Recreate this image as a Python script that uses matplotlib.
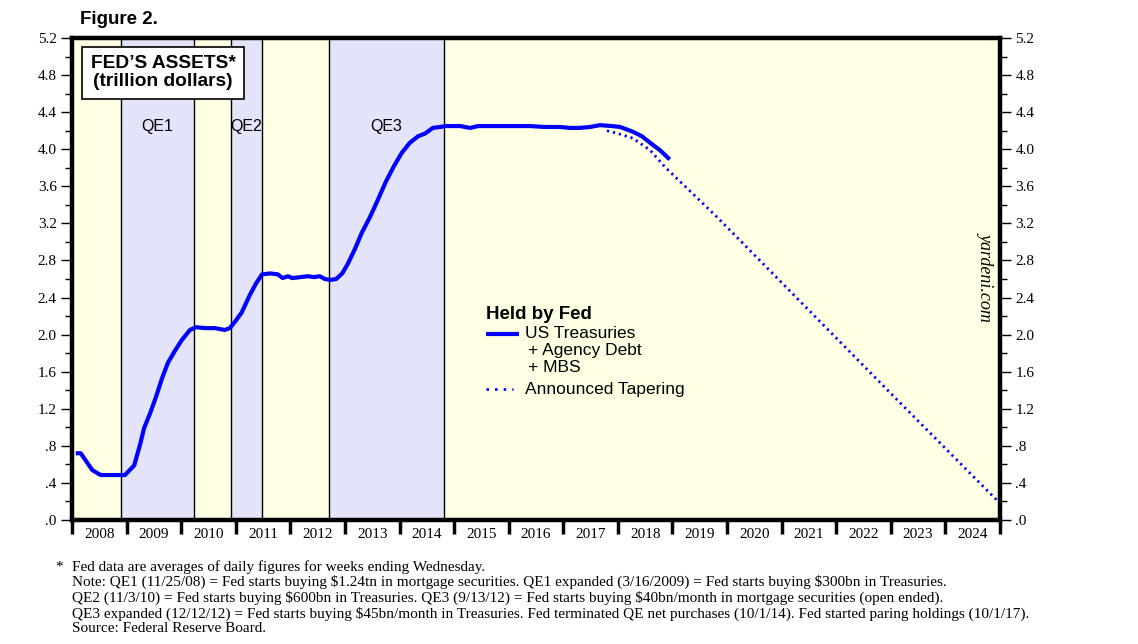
import numpy as np
import matplotlib.pyplot as plt
from matplotlib.ticker import FixedLocator, NullFormatter

# Fed's assets, trillion dollars, x in decimal years
yr_assets = [2008.07, 2008.16, 2008.37, 2008.48, 2008.53, 2008.97, 2009.06, 2009.14, 2009.25,
             2009.32, 2009.43, 2009.54, 2009.65, 2009.76, 2009.89, 2010.01, 2010.16, 2010.27,
             2010.44, 2010.62, 2010.80, 2010.89, 2011.00, 2011.11, 2011.26, 2011.37, 2011.48,
             2011.63, 2011.77, 2011.86, 2011.96, 2012.03, 2012.18, 2012.32, 2012.43, 2012.54,
             2012.63, 2012.73, 2012.84, 2012.95, 2013.05, 2013.18, 2013.31, 2013.46, 2013.60,
             2013.75, 2013.90, 2014.04, 2014.19, 2014.34, 2014.47, 2014.61, 2014.74, 2014.85,
             2015.11, 2015.29, 2015.44, 2015.66, 2016.02, 2016.39, 2016.66, 2016.94, 2017.12,
             2017.30, 2017.49, 2017.67, 2017.89, 2018.04, 2018.27, 2018.44, 2018.59, 2018.77,
             2018.95]
assets = [0.72, 0.72, 0.54, 0.50, 0.485, 0.485, 0.54, 0.59, 0.82,
          0.99, 1.15, 1.33, 1.53, 1.70, 1.83, 1.94, 2.05, 2.08,
          2.07, 2.07, 2.05, 2.07, 2.15, 2.24, 2.43, 2.55, 2.65,
          2.66, 2.65, 2.61, 2.63, 2.61, 2.62, 2.63, 2.62, 2.63,
          2.60, 2.59, 2.60, 2.66, 2.76, 2.92, 3.10, 3.27, 3.45,
          3.65, 3.82, 3.96, 4.07, 4.14, 4.17, 4.23, 4.24, 4.25,
          4.25, 4.23, 4.25, 4.25, 4.25, 4.25, 4.24, 4.24, 4.23,
          4.23, 4.24, 4.26, 4.25, 4.24, 4.19, 4.14, 4.07, 3.99,
          3.89]

# announced tapering path
yr_taper = [2017.80, 2018.00, 2018.27, 2018.59, 2018.86, 2019.83, 2023.11, 2025.00]
taper = [4.20, 4.17, 4.12, 3.99, 3.81, 3.26, 1.30, 0.18]

# QE periods and in-between periods (start, end)
qe_periods = [(2008.90, 2010.23), (2010.91, 2011.48), (2012.70, 2014.81)]
qe_names = ['QE1', 'QE2', 'QE3']
gap_periods = [(2008.0, 2008.90), (2010.23, 2010.91), (2011.48, 2012.70), (2014.81, 2025.0)]

years = list(range(2008, 2025))
y_ticks = [0.0, 0.4, 0.8, 1.2, 1.6, 2.0, 2.4, 2.8, 3.2, 3.6, 4.0, 4.4, 4.8, 5.2]
y_labels = ['.0', '.4', '.8', '1.2', '1.6', '2.0', '2.4', '2.8', '3.2', '3.6', '4.0', '4.4', '4.8', '5.2']

yellow = '#FFFFE3'
lavender = '#E3E3FA'
blue = '#0000FF'
dots = (0, (0.8, 1.4))

fig = plt.figure(figsize=(11.38, 6.44), dpi=100)
ax = fig.add_axes([72/1138, 1-520/644, 928/1138, 482/644])

for s, e in gap_periods:
    ax.axvspan(s, e, color=yellow, lw=0, zorder=0)
for (s, e), name in zip(qe_periods, qe_names):
    ax.axvspan(s, e, color=lavender, lw=0, zorder=0)
    ax.axvline(s, color='black', lw=1.0, zorder=1)
    ax.axvline(e, color='black', lw=1.0, zorder=1)
    ax.text((s + e) / 2, 4.24, name, ha='center', va='center', fontsize=11.5,
            family='Liberation Sans', zorder=3)

ax.plot(yr_taper, taper, color=blue, lw=2.0, linestyle=dots, zorder=4)
ax.plot(yr_assets, assets, color=blue, lw=3.0, solid_capstyle='butt', zorder=5)

ax.set_xlim(2008, 2025)
ax.set_ylim(0, 5.2)

# x axis: year boundary ticks, labels at mid-year
ax.xaxis.set_major_locator(FixedLocator(years + [2025]))
ax.xaxis.set_major_formatter(NullFormatter())
ax.xaxis.set_minor_locator(FixedLocator([y + 0.5 for y in years]))
ax.set_xticklabels([str(y) for y in years], minor=True)
ax.tick_params(axis='x', which='major', direction='out', length=10, width=2.5, color='black')
ax.tick_params(axis='x', which='minor', length=0, pad=6, labelsize=11)
for lab in ax.get_xticklabels(minor=True):
    lab.set_family('Liberation Serif')

ax.set_yticks(y_ticks)
ax.set_yticklabels(y_labels)
ax.yaxis.set_minor_locator(FixedLocator(np.arange(0.2, 5.2, 0.4)))
ax.tick_params(axis='y', which='both', direction='out', left=True, right=True,
               labelleft=True, labelright=True, width=1.0, labelsize=11, pad=3)
ax.tick_params(axis='y', which='major', length=8)
ax.tick_params(axis='y', which='minor', length=5)
for lab in ax.get_yticklabels():
    lab.set_family('Liberation Serif')

for sp in ax.spines.values():
    sp.set_linewidth(3.2)
    sp.set_zorder(6)

# titles and annotations
fig.text(80/1138, 1-19/644, 'Figure 2.', fontsize=13.5, fontweight='bold',
         family='Liberation Sans', ha='left', va='center')
ax.text(0.098, 0.928, 'FED\u2019S ASSETS*\n(trillion dollars)', transform=ax.transAxes,
        ha='center', va='center', fontsize=13.8, fontweight='bold', family='Liberation Sans',
        linespacing=1.05, zorder=7,
        bbox=dict(boxstyle='square,pad=0.45', facecolor='white', edgecolor='black', lw=1.2))

# custom legend
ax.text(2015.58, 2.22, 'Held by Fed', fontsize=13.5, fontweight='bold',
        family='Liberation Sans', ha='left', va='center', zorder=7)
ax.plot([2015.58, 2016.18], [2.01, 2.01], color=blue, lw=3.0, solid_capstyle='butt', zorder=7)
ax.text(2016.30, 2.01, 'US Treasuries', fontsize=12.5, family='Liberation Sans',
        ha='left', va='center', zorder=7)
ax.text(2016.35, 1.83, '+ Agency Debt', fontsize=12.5, family='Liberation Sans',
        ha='left', va='center', zorder=7)
ax.text(2016.35, 1.65, '+ MBS', fontsize=12.5, family='Liberation Sans',
        ha='left', va='center', zorder=7)
ax.plot([2015.58, 2016.08], [1.41, 1.41], color=blue, lw=2.0, linestyle=(0, (0.9, 2.2)), zorder=7)
ax.text(2016.30, 1.41, 'Announced Tapering', fontsize=12.5, family='Liberation Sans',
        ha='left', va='center', zorder=7)

ax.text(0.985, 0.506, 'yardeni.com', transform=ax.transAxes, rotation=270, style='italic',
        fontsize=13, family='Liberation Serif', ha='center', va='center', zorder=7)

foot = ('Fed data are averages of daily figures for weeks ending Wednesday.\n'
        'Note: QE1 (11/25/08) = Fed starts buying \\$1.24tn in mortgage securities. QE1 expanded (3/16/2009) = Fed starts buying \\$300bn in Treasuries.\n'
        'QE2 (11/3/10) = Fed starts buying \\$600bn in Treasuries. QE3 (9/13/12) = Fed starts buying \\$40bn/month in mortgage securities (open ended).\n'
        'QE3 expanded (12/12/12) = Fed starts buying \\$45bn/month in Treasuries. Fed terminated QE net purchases (10/1/14). Fed started paring holdings (10/1/17).\n'
        'Source: Federal Reserve Board.')
fig.text(55/1138, 1-567/644, '*', fontsize=11, family='Liberation Serif', ha='left', va='center')
fig.text(72/1138, 1-560/644, foot, fontsize=11, family='Liberation Serif', ha='left', va='top',
         linespacing=1.13)

fig.savefig('out.png', dpi=100)
